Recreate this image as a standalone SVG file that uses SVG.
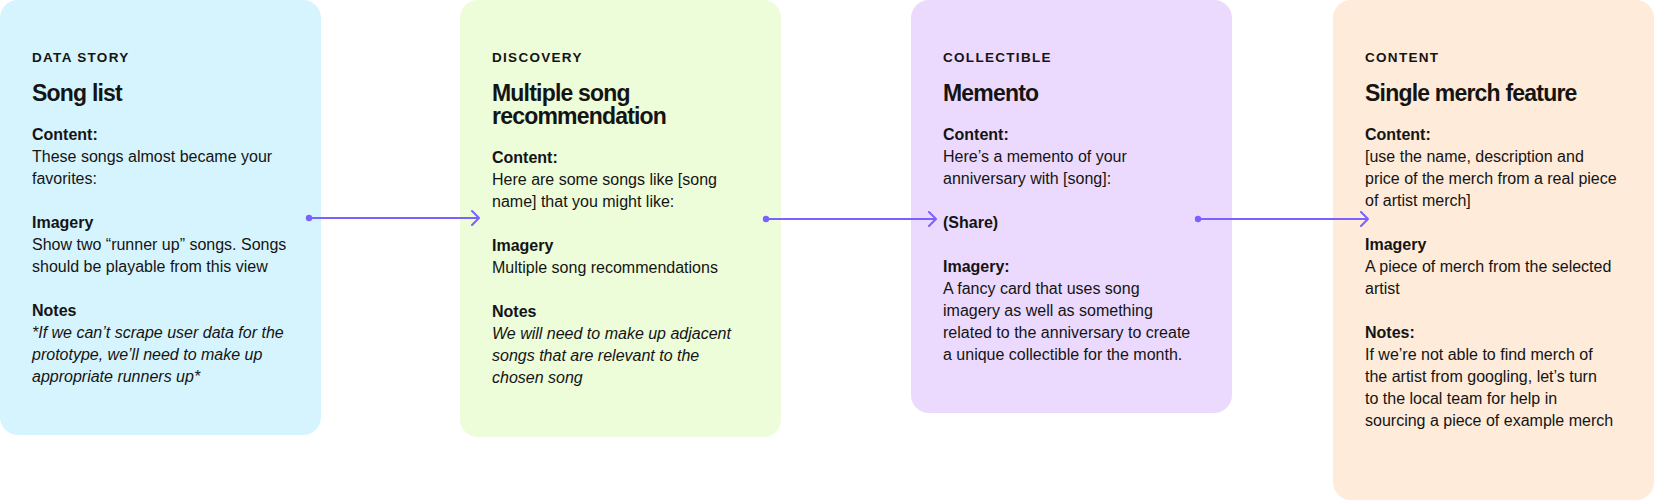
<svg xmlns="http://www.w3.org/2000/svg" width="1654" height="501" viewBox="0 0 1654 501">
<style>
text{font-family:"Liberation Sans",Arial,sans-serif;fill:#141414}
.tag{font-size:13.5px;font-weight:700;letter-spacing:1.3px}
.title{font-size:23px;font-weight:700;letter-spacing:-0.8px}
.lab{font-size:16px;font-weight:700}
.body{font-size:16px}
.it{font-size:16px;font-style:italic}
.conn{stroke:#7b61ff;stroke-width:2;fill:none}
.dot{fill:#7b61ff}
</style>
<defs>
<marker id="arr" viewBox="0 0 10 16" refX="9" refY="8" markerWidth="10" markerHeight="16" markerUnits="userSpaceOnUse" orient="auto">
<path d="M2 1 L9 8 L2 15" stroke="#7b61ff" stroke-width="2" fill="none" stroke-linecap="round" stroke-linejoin="round"/>
</marker>
</defs>
<rect width="1654" height="501" fill="#ffffff"/>
<g id="node-song-list">
<rect x="0" y="0" width="321" height="435" rx="18" fill="#d6f4fe"/>
<text class="tag" x="32" y="62">DATA STORY</text>
<text class="title" x="32" y="101">Song list</text>
<text class="lab" x="32" y="140">Content:</text>
<text class="body" x="32" y="162">These songs almost became your</text>
<text class="body" x="32" y="184">favorites:</text>
<text class="lab" x="32" y="228">Imagery</text>
<text class="body" x="32" y="250">Show two “runner up” songs. Songs</text>
<text class="body" x="32" y="272">should be playable from this view</text>
<text class="lab" x="32" y="316">Notes</text>
<text class="it" x="32" y="338">*If we can’t scrape user data for the</text>
<text class="it" x="32" y="360">prototype, we’ll need to make up</text>
<text class="it" x="32" y="382">appropriate runners up*</text>
</g>
<g id="node-multiple-song">
<rect x="460" y="0" width="321" height="437" rx="18" fill="#edfcd9"/>
<text class="tag" x="492" y="62">DISCOVERY</text>
<text class="title" x="492" y="101">Multiple song</text>
<text class="title" x="492" y="124">recommendation</text>
<text class="lab" x="492" y="163">Content:</text>
<text class="body" x="492" y="185">Here are some songs like [song</text>
<text class="body" x="492" y="207">name] that you might like:</text>
<text class="lab" x="492" y="251">Imagery</text>
<text class="body" x="492" y="273">Multiple song recommendations</text>
<text class="lab" x="492" y="317">Notes</text>
<text class="it" x="492" y="339">We will need to make up adjacent</text>
<text class="it" x="492" y="361">songs that are relevant to the</text>
<text class="it" x="492" y="383">chosen song</text>
</g>
<g id="node-memento">
<rect x="911" y="0" width="321" height="413" rx="18" fill="#ecdafe"/>
<text class="tag" x="943" y="62">COLLECTIBLE</text>
<text class="title" x="943" y="101">Memento</text>
<text class="lab" x="943" y="140">Content:</text>
<text class="body" x="943" y="162">Here’s a memento of your</text>
<text class="body" x="943" y="184">anniversary with [song]:</text>
<text class="lab" x="943" y="228">(Share)</text>
<text class="lab" x="943" y="272">Imagery:</text>
<text class="body" x="943" y="294">A fancy card that uses song</text>
<text class="body" x="943" y="316">imagery as well as something</text>
<text class="body" x="943" y="338">related to the anniversary to create</text>
<text class="body" x="943" y="360">a unique collectible for the month.</text>
</g>
<g id="node-merch">
<rect x="1333" y="0" width="321" height="500" rx="18" fill="#feebd9"/>
<text class="tag" x="1365" y="62">CONTENT</text>
<text class="title" x="1365" y="101">Single merch feature</text>
<text class="lab" x="1365" y="140">Content:</text>
<text class="body" x="1365" y="162">[use the name, description and</text>
<text class="body" x="1365" y="184">price of the merch from a real piece</text>
<text class="body" x="1365" y="206">of artist merch]</text>
<text class="lab" x="1365" y="250">Imagery</text>
<text class="body" x="1365" y="272">A piece of merch from the selected</text>
<text class="body" x="1365" y="294">artist</text>
<text class="lab" x="1365" y="338">Notes:</text>
<text class="body" x="1365" y="360">If we’re not able to find merch of</text>
<text class="body" x="1365" y="382">the artist from googling, let’s turn</text>
<text class="body" x="1365" y="404">to the local team for help in</text>
<text class="body" x="1365" y="426">sourcing a piece of example merch</text>
</g>
<g id="connectors">
<line class="conn" x1="309" y1="218" x2="479" y2="218" marker-end="url(#arr)"/>
<circle class="dot" cx="309" cy="218" r="3.2"/>
<line class="conn" x1="766" y1="219" x2="936" y2="219" marker-end="url(#arr)"/>
<circle class="dot" cx="766" cy="219" r="3.2"/>
<line class="conn" x1="1198" y1="219" x2="1368" y2="219" marker-end="url(#arr)"/>
<circle class="dot" cx="1198" cy="219" r="3.2"/>
</g>
</svg>
